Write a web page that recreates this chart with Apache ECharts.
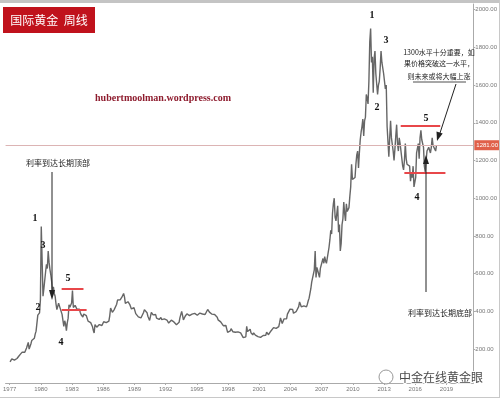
<!DOCTYPE html>
<html><head><meta charset="utf-8">
<script src="https://cdn.jsdelivr.net/npm/echarts@6/dist/echarts.min.js"></script>
<style>html,body{margin:0;padding:0;background:#fff}#c{width:500px;height:400px}</style>
</head><body><div id="c"></div>
<script>
// ---- data (monthly) ----
const startYear = 1977;
const gold1977_1986 = [
 132,136,148,149,147,141,144,145,150,159,162,161,
 173,178,184,175,176,183,188,206,212,235,200,208,
 227,245,242,239,257,279,295,301,380,385,392,460,
 850,670,480,520,514,610,650,627,720,661,623,594,
 557,500,530,495,480,440,409,410,443,437,413,410,
 384,374,320,350,334,297,339,364,435,422,415,444,
 510,420,419,432,438,413,422,416,412,394,382,388,
 370,386,394,381,377,378,348,348,341,340,341,320,
 300,285,330,325,316,317,317,330,324,326,325,322,
 345,339,346,340,342,343,348,376,418,423,395,391
];
const gold1987_1996 = [
 408,401,409,438,460,450,450,461,460,475,467,495,
 477,442,444,452,451,451,437,432,413,406,420,419,
 404,388,390,385,371,367,375,365,362,367,394,409,
 415,417,393,374,369,352,362,395,389,381,381,378,
 383,364,363,358,357,367,368,356,349,359,360,361,
 354,354,345,338,337,341,353,343,345,344,335,334,
 329,329,330,342,367,372,400,379,355,364,374,383,
 387,382,384,377,381,386,385,380,391,389,384,379,
 379,377,382,391,385,387,386,383,383,383,386,387,
 410,405,396,393,392,385,383,387,383,381,378,369
];
const gold1997_2006 = [
 355,347,352,344,344,341,324,324,323,325,306,289,
 289,297,296,308,299,292,293,284,289,296,294,291,
 287,288,286,282,277,261,253,257,265,320,293,283,
 285,305,286,280,275,286,282,274,273,270,266,272,
 265,262,263,256,272,270,268,273,290,283,276,276,
 282,296,294,302,314,322,314,310,319,317,319,340,
 365,355,335,329,360,356,351,360,385,379,390,412,
 420,405,410,390,384,392,398,400,406,425,450,442,
 424,423,434,429,422,431,424,438,456,470,476,520,
 555,555,560,620,720,580,633,632,598,580,628,629
];
const gold2007_2017 = [
 635,680,655,690,667,655,665,665,740,780,830,810,
 920,970,1000,900,880,890,960,820,860,720,760,860,
 890,980,920,880,970,930,940,950,1010,1060,1180,1100,
 1090,1110,1110,1180,1230,1250,1160,1240,1310,1350,1380,1420,
 1330,1410,1430,1550,1530,1500,1620,1830,1900,1720,1750,1560,
 1740,1780,1660,1650,1550,1600,1620,1690,1780,1720,1720,1660,
 1660,1580,1600,1380,1390,1220,1320,1410,1320,1320,1250,1200,
 1260,1330,1390,1290,1250,1320,1290,1290,1210,1170,1150,1200,
 1290,1210,1180,1180,1190,1170,1090,1130,1110,1170,1060,1060,
 1110,1240,1230,1290,1210,1320,1360,1310,1320,1270,1170,1140,
 1200,1250,1250,1270,1270,1240,1270,1320,1280,1270,1280,1250
];
const lastPrice = 1281;
const lastTime = 2018.04;
const yearTicks = [1977,1980,1983,1986,1989,1992,1995,1998,2001,2004,2007,2010,2013,2016,2019];
const priceTicks = [200,400,600,800,1000,1200,1400,1600,1800,2000];
// horizontal level lines: [fromYear, toYear, price]
const levels1980s = [[1982.0, 1984.1, 520], [1982.0, 1984.4, 408]];
const levels2010s = [[2014.6, 2018.4, 1384], [2014.95, 2018.9, 1135]];

// ---- build ----
const monthly = [].concat(gold1977_1986, gold1987_1996, gold1997_2006, gold2007_2017);
const series = monthly.map((v, i) => [startYear + (i + 0.5) / 12, v]);
series.push([lastTime, lastPrice]);

const levelData = levels1980s.concat(levels2010s).map(l => [{coord: [l[0], l[2]]}, {coord: [l[1], l[2]]}]);

const chart = echarts.init(document.getElementById('c'), null, {renderer: 'canvas'});
const numFont = 'bold 10px "Liberation Serif"';
const cjk = '"Noto Sans CJK SC"';
function txt(x, y, text, font, fill, extra) {
  return Object.assign({type: 'text', x: x, y: y, silent: true, z: 100,
    style: {text: text, font: font, fill: fill, align: 'center', verticalAlign: 'middle',
            textAlign: 'center', textVerticalAlign: 'middle'}}, extra || {});
}
function line(x1, y1, x2, y2, color, w) {
  return {type: 'line', silent: true, z: 100, shape: {x1, y1, x2, y2}, style: {stroke: color, lineWidth: w}};
}
function head(points, color) {
  return {type: 'polygon', silent: true, z: 100, shape: {points}, style: {fill: color}};
}

chart.setOption({
  animation: false,
  backgroundColor: '#fff',
  grid: {left: 0, right: 22, top: 4, bottom: 17, containLabel: false},
  xAxis: {
    type: 'value', min: 1976.61, max: 2021.58,
    axisLine: {show: true, lineStyle: {color: '#aaa'}},
    axisTick: {show: true, length: 2, lineStyle: {color: '#aaa'}, customValues: yearTicks},
    axisLabel: {fontSize: 6, color: '#777', margin: 3, customValues: yearTicks,
      formatter: v => String(Math.round(v)), fontFamily: 'Liberation Sans'},
    splitLine: {show: false}
  },
  yAxis: {
    type: 'value', position: 'right', min: 20, max: 2030,
    axisLine: {show: true, lineStyle: {color: '#aaa'}},
    axisTick: {show: true, length: 2, lineStyle: {color: '#aaa'}, customValues: priceTicks},
    axisLabel: {fontSize: 6, color: '#777', margin: 2, customValues: priceTicks,
      formatter: v => v.toFixed(2), fontFamily: 'Liberation Sans'},
    splitLine: {show: false}
  },
  series: [{
    type: 'line', data: series, showSymbol: false, symbol: 'none',
    lineStyle: {color: '#666', width: 1.4},
    markLine: {
      silent: true, symbol: 'none', animation: false,
      data: [
        {yAxis: lastPrice, lineStyle: {color: '#dcb4b4', width: 1, type: 'solid'},
         label: {show: true, position: 'end', distance: 1, formatter: lastPrice.toFixed(2),
           fontSize: 6, color: '#fff', backgroundColor: '#e0604a', padding: [2, 2]}}
      ].concat(levelData.map(d => [
        Object.assign({}, d[0], {lineStyle: {color: '#e8474a', width: 2, type: 'solid'}, label: {show: false}}),
        d[1]
      ]))
    }
  }],
  graphic: [
    {type: 'rect', silent: true, shape: {x: 0, y: 0, width: 500, height: 3}, style: {fill: '#c4c4c4'}},
    line(0, 397.5, 500, 397.5, '#c8c8c8', 1),
    line(499.5, 0, 499.5, 398, '#c8c8c8', 1),
    {type: 'rect', silent: true, shape: {x: 3, y: 7, width: 92, height: 26}, style: {fill: '#c0121c'}, z: 100},
    txt(49, 20.5, '国际黄金  周线', '12px ' + cjk, '#fff'),
    txt(163, 98, 'hubertmoolman.wordpress.com', 'bold 10px "Liberation Serif"', '#8e1c2e'),
    txt(58, 163, '利率到达长期顶部', '8px ' + cjk, '#222'),
    line(52, 172, 52, 292, '#222', 1),
    head([[49, 290], [55, 290], [52, 300]], '#222'),
    txt(35, 218, '1', numFont, '#111'),
    txt(38, 307, '2', numFont, '#111'),
    txt(43, 245, '3', numFont, '#111'),
    txt(61, 342, '4', numFont, '#111'),
    txt(68, 278, '5', numFont, '#111'),
    txt(372, 15, '1', numFont, '#111'),
    txt(377, 107, '2', numFont, '#111'),
    txt(386, 40, '3', numFont, '#111'),
    txt(417, 197, '4', numFont, '#111'),
    txt(426, 118, '5', numFont, '#111'),
    txt(439, 52, '1300水平十分重要，如', '7px ' + cjk, '#222'),
    txt(439, 63.5, '果价格突破这一水平，', '7px ' + cjk, '#222'),
    txt(439, 76, '则未来或将大幅上涨', '7px ' + cjk, '#222'),
    line(413, 82, 466, 82, '#222', 0.8),
    line(456, 84, 439, 136, '#222', 1),
    head([[437, 141], [442.7, 133.4], [436.5, 131.6]], '#222'),
    line(426, 292, 426, 162, '#222', 1),
    head([[423, 164], [429, 164], [426, 155]], '#222'),
    txt(440, 313, '利率到达长期底部', '8px ' + cjk, '#222'),
    {type: 'circle', silent: true, z: 100, shape: {cx: 386, cy: 377, r: 7}, style: {fill: 'rgba(255,255,255,0.8)', stroke: '#999', lineWidth: 1}},
    txt(441, 377, '中金在线黄金眼', '12px ' + cjk, '#4a4a4a', {style: {text: '中金在线黄金眼', font: '12px ' + cjk, fill: '#4a4a4a', stroke: '#fff', lineWidth: 2, align: 'center', verticalAlign: 'middle', textAlign: 'center', textVerticalAlign: 'middle'}})
  ]
});
</script></body></html>
